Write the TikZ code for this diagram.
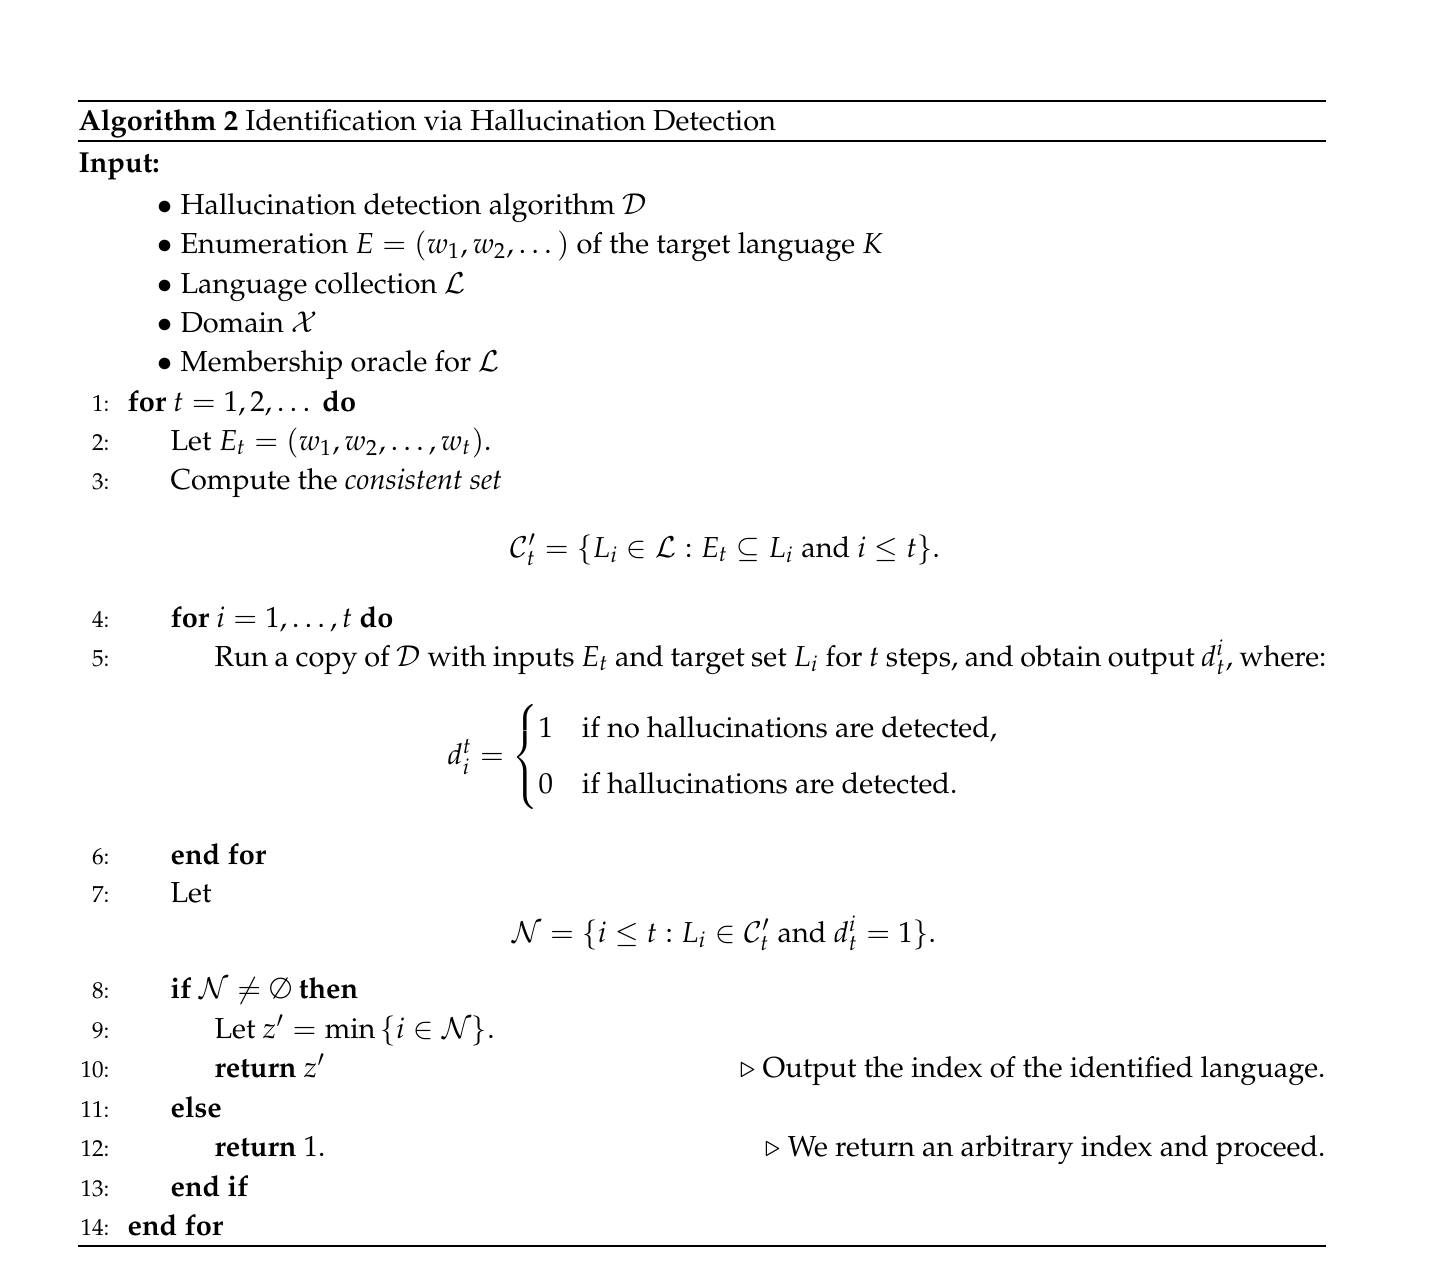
\documentclass[tikz,border=0pt]{standalone}
\usepackage[T1]{fontenc}
\usepackage{amsmath}
\usepackage{mathpazo}
\usetikzlibrary{positioning}
\tikzset{lnum/.style={anchor=base east, inner sep=0pt, font=\footnotesize},
         stmt/.style={anchor=base west, inner sep=0pt},
         note/.style={anchor=base east, inner sep=0pt},
         eqn/.style={anchor=base, inner sep=0pt},
         toprule/.style={line width=0.8pt},
         thinrule/.style={line width=0.5pt},
        }

\begin{document}
\begin{tikzpicture}[x=0.346pt,y=-0.346pt]
        \useasboundingbox (0,0) rectangle (1438,1274);
        \draw[toprule](78,101)--(1326,101);
        \node[stmt](cap)at(78,130){\textbf{Algorithm 2} Identification via Hallucination Detection};
        \draw[thinrule](78,141)--(1326,141);
        \node[stmt](inp)at(78,172){\textbf{Input:}};

        \node[stmt](in1)at(157,214){$\bullet$ Hallucination detection algorithm $\mathcal{D}$};
        \node[stmt](in2)at(157,253){$\bullet$ Enumeration $E=(w_1,w_2,\dots)$ of the target language $K$};
        \node[stmt](in3)at(157,293){$\bullet$ Language collection $\mathcal{L}$};
        \node[stmt](in4)at(157,332){$\bullet$ Domain $\mathcal{X}$};
        \node[stmt](in5)at(157,371){$\bullet$ Membership oracle for $\mathcal{L}$};

        \node[lnum](n1)at(110,411){1:};
        \node[stmt](s1)at(127,411){\textbf{for} $t=1,2,\dots$ \textbf{do}};
        \node[lnum](n2)at(110,450){2:};
        \node[stmt](s2)at(170,450){Let $E_t=(w_1,w_2,\dots,w_t)$.};
        \node[lnum](n3)at(110,489){3:};
        \node[stmt](s3)at(170,489){Compute the \emph{consistent set}};
        \node[eqn](eq1)at(725,557){$\mathcal{C}'_t=\{L_i\in\mathcal{L}:E_t\subseteq L_i\text{ and }i\le t\}.$};

        \node[lnum](n4)at(110,627){4:};
        \node[stmt](s4)at(170,627){\textbf{for} $i=1,\dots,t$ \textbf{do}};
        \node[lnum](n5)at(110,666){5:};
        \node[stmt](s5)at(214,666){\makebox[384.7pt][s]{Run a copy of $\mathcal{D}$ with inputs $E_t$ and target set $L_i$ for $t$ steps, and obtain output $d_t^i$, where:}};
        \node[anchor=west, inner sep=0pt](eq2)at(447,757){$d_i^t=\begin{cases}1 & \text{if no hallucinations are detected,}\\[5pt] 0 & \text{if hallucinations are detected.}\end{cases}$};

        \node[lnum](n6)at(110,864){6:};
        \node[stmt](s6)at(170,864){\textbf{end for}};
        \node[lnum](n7)at(110,902){7:};
        \node[stmt](s7)at(170,902){Let};
        \node[eqn](eq3)at(724,942){$\mathcal{N}=\{i\le t:L_i\in\mathcal{C}'_t\text{ and }d_t^i=1\}.$};

        \node[lnum](n8)at(110,998){8:};
        \node[stmt](s8)at(170,998){\textbf{if} $\mathcal{N}\neq\emptyset$ \textbf{then}};
        \node[lnum](n9)at(110,1038){9:};
        \node[stmt](s9)at(214,1038){Let $z'=\min\,\{i\in\mathcal{N}\}$.};
        \node[lnum](n10)at(110,1077){10:};
        \node[stmt](s10)at(214,1077){\textbf{return} $z'$};
        \node[note](c10)at(1326,1077){$\triangleright$ Output the index of the identified language.};
        \node[lnum](n11)at(110,1117){11:};
        \node[stmt](s11)at(170,1117){\textbf{else}};
        \node[lnum](n12)at(110,1156){12:};
        \node[stmt](s12)at(214,1156){\textbf{return} 1.};
        \node[note](c12)at(1326,1156){$\triangleright$ We return an arbitrary index and proceed.};
        \node[lnum](n13)at(110,1196){13:};
        \node[stmt](s13)at(170,1196){\textbf{end if}};
        \node[lnum](n14)at(110,1235){14:};
        \node[stmt](s14)at(127,1235){\textbf{end for}};
        \draw[thinrule](78,1246)--(1326,1246);
    \end{tikzpicture}
\end{document}
